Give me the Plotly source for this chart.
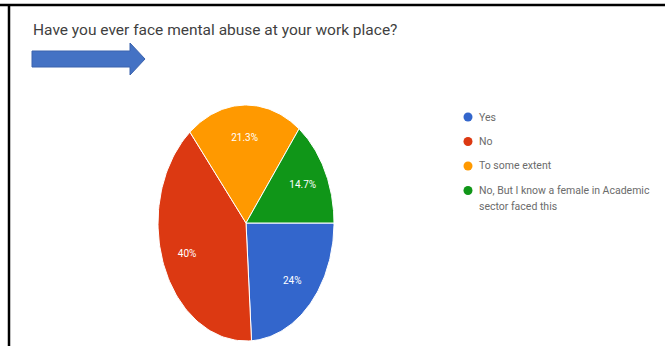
import numpy as np
import plotly.graph_objects as go

# Survey answers and their shares (percent)
categories = ["Yes", "No", "To some extent", "No, But I know a female in Academic sector faced this"]
legend_lines = [["Yes"], ["No"], ["To some extent"], ["No, But I know a female in Academic", "sector faced this"]]
shares = [24.0, 40.0, 21.3, 14.7]
colors = ["#3366cc", "#dc3912", "#ff9900", "#109618"]
title_text = "Have you ever face mental abuse at your work place?"

W, H = 665, 346

# Pie box (pixels) - the chart is drawn as an ellipse
cx, cy, rx, ry = 246, 223, 88, 118

fig = go.Figure()

# Wedges: start at 3 o'clock, run clockwise (pie axes x2/y2)
total = sum(shares)
start = 0.0
label_pos = []
for name, val, col in zip(categories, shares, colors):
    span = 360.0 * val / total
    a = np.radians(np.linspace(start, start + span, 80))
    xs = np.concatenate([[0], np.cos(-a), [0]])
    ys = np.concatenate([[0], np.sin(-a), [0]])
    fig.add_trace(go.Scatter(
        x=xs, y=ys, mode="lines", fill="toself", fillcolor=col,
        line=dict(color="white", width=1), hoverinfo="skip",
        showlegend=False, xaxis="x2", yaxis="y2", name=name,
    ))
    mid = np.radians(start + span / 2)
    label_pos.append((0.72 * np.cos(-mid), 0.72 * np.sin(-mid), val))
    start += span

fig.add_trace(go.Scatter(
    x=[p[0] for p in label_pos], y=[p[1] for p in label_pos],
    mode="text", text=[f"{v:g}%" for _, _, v in label_pos],
    textfont=dict(family="Roboto", size=10, color="white"),
    hoverinfo="skip", showlegend=False, xaxis="x2", yaxis="y2",
))

# Legend markers on the full-page pixel axis
leg_x, leg_y0, leg_step = 468, 117, 24.5
fig.add_trace(go.Scatter(
    x=[leg_x] * len(categories),
    y=[leg_y0 + i * leg_step for i in range(len(categories))],
    mode="markers", marker=dict(size=9, color=colors),
    hoverinfo="skip", showlegend=False, xaxis="x", yaxis="y",
))

annotations = []
for i, lines in enumerate(legend_lines):
    for j, line in enumerate(lines):
        annotations.append(dict(
            x=477 / W, y=1 - (leg_y0 + i * leg_step + j * 16) / H,
            xref="paper", yref="paper", xanchor="left", yanchor="middle",
            text=line, showarrow=False,
            font=dict(family="Roboto", size=10.5, color="#6b6b6b"),
        ))

annotations.append(dict(
    x=31 / W, y=1 - 30 / H, xref="paper", yref="paper",
    xanchor="left", yanchor="middle", text=title_text, showarrow=False,
    font=dict(family="Roboto", size=15.5, color="#3f3f3f"),
))

shapes = [
    # frame lines
    dict(type="line", xref="x", yref="y", x0=0, x1=W, y0=5, y1=5,
         line=dict(color="black", width=2.5)),
    dict(type="line", xref="x", yref="y", x0=9, x1=9, y0=4, y1=H,
         line=dict(color="black", width=2.5)),
    # pointer arrow
    dict(type="path", xref="x", yref="y",
         path="M 32 51 L 130 51 L 130 43 L 145 59 L 130 75 L 130 67 L 32 67 Z",
         fillcolor="#4472c4", line=dict(color="#3a62ad", width=1)),
]

fig.update_layout(
    width=W, height=H,
    margin=dict(l=0, r=0, t=0, b=0),
    paper_bgcolor="white", plot_bgcolor="rgba(0,0,0,0)",
    xaxis=dict(domain=[0, 1], range=[0, W], visible=False, fixedrange=True),
    yaxis=dict(domain=[0, 1], range=[H, 0], visible=False, fixedrange=True),
    xaxis2=dict(domain=[(cx - rx) / W, (cx + rx) / W], range=[-1, 1],
                anchor="y2", visible=False, fixedrange=True),
    yaxis2=dict(domain=[(H - cy - ry) / H, (H - cy + ry) / H], range=[-1, 1],
                anchor="x2", visible=False, fixedrange=True),
    annotations=annotations, shapes=shapes, showlegend=False,
)

fig.write_html("out.html")
